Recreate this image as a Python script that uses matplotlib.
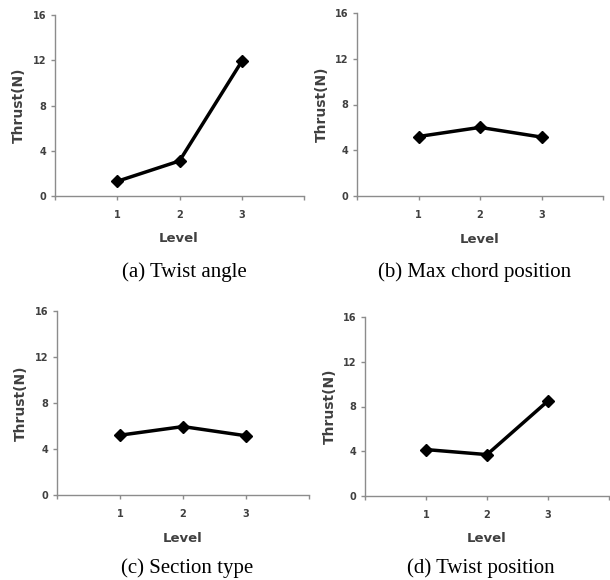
import matplotlib
matplotlib.use("Agg")
import matplotlib.pyplot as plt

levels = [1, 2, 3]
twist_angle = [1.3, 3.1, 11.9]
max_chord_position = [5.2, 6.0, 5.15]
section_type = [5.2, 5.95, 5.15]
twist_position = [4.15, 3.7, 8.5]

captions = ["(a) Twist angle", "(b) Max chord position", "(c) Section type", "(d) Twist position"]
series = [twist_angle, max_chord_position, section_type, twist_position]
yticks = [0, 4, 8, 12, 16]

W, H = 610, 580
fig = plt.figure(figsize=(W / 100, H / 100), dpi=100)

# pixel boxes: left, right, top, bottom
boxes = [(55, 304, 15, 196), (357, 603, 13, 196), (57, 309, 311, 495), (365, 609, 317, 496)]
cap_pos = [(184, 272), (475, 272), (187, 568), (481, 568)]

axis_col = "#8c8c8c"
text_col = "#404040"

for vals, box, cap, cp in zip(series, boxes, captions, cap_pos):
    l, r, t, b = box
    ax = fig.add_axes([l / W, (H - b) / H, (r - l) / W, (b - t) / H])
    ax.plot(levels, vals, color="black", lw=2.5, marker="D", ms=6, zorder=3, clip_on=False)
    ax.set_xlim(0, 4)
    ax.set_ylim(0, 16)
    ax.set_yticks(yticks)
    ax.set_xticks([0, 1, 2, 3, 4])
    ax.set_xticklabels(["", "1", "2", "3", ""])
    for s in ["top", "right"]:
        ax.spines[s].set_visible(False)
    for s in ["left", "bottom"]:
        ax.spines[s].set_color(axis_col)
        ax.spines[s].set_linewidth(1.0)
    ax.tick_params(axis="both", colors=axis_col, length=3, width=1.0, labelsize=7,
                   labelcolor=text_col)
    ax.tick_params(axis="x", pad=7)
    ax.tick_params(axis="y", pad=3)
    for lab in ax.get_xticklabels() + ax.get_yticklabels():
        lab.set_fontweight("bold")
    ax.set_xlabel("Level", fontsize=9.5, fontweight="bold", color=text_col)
    ax.set_ylabel("Thrust(N)", fontsize=10, fontweight="bold", color=text_col)
    ax.xaxis.set_label_coords(0.498, -0.2)
    ax.yaxis.set_label_coords(-0.115, 0.5)
    fig.text(cp[0] / W, 1 - cp[1] / H, cap, ha="center", va="center",
             fontsize=15, family="Liberation Serif", color="black")

fig.savefig("out.png", dpi=100)
